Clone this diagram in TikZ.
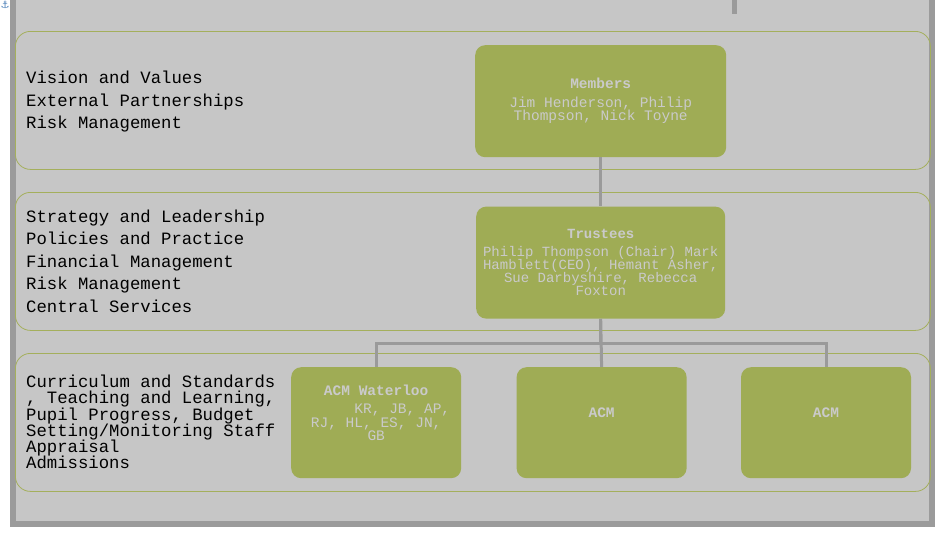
\documentclass[tikz,border=0pt]{standalone}
\usepackage{fontspec}
\setmonofont{Liberation Mono}
\newfontfamily\iconfont{DejaVu Sans}
\usepackage{tikz}
\usetikzlibrary{positioning, calc}

\definecolor{panelgray}{HTML}{C6C6C6}
\definecolor{framegray}{HTML}{9B9B9B}
\definecolor{bandline}{HTML}{A4AF5C}
\definecolor{unitgreen}{HTML}{9FAC55}
\definecolor{unittext}{HTML}{CACACA}
\definecolor{linkgray}{HTML}{9A9A9A}
\definecolor{iconblue}{HTML}{4A7FB8}

\newcommand\tightlines{\lineskiplimit-20pt\relax}

\tikzset{
	band/.style={draw=bandline, line width=0.8pt, rounded corners=15pt, minimum width=915pt, minimum height=138pt, anchor=north west, inner sep=0pt},
	remit/.style={anchor=west, inner sep=0pt, align=left, text=black},
	unit/.style={fill=unitgreen, rounded corners=10pt, text=unittext, align=center, inner sep=0pt, font=\ttfamily\fontsize{14.5}{13.5}\selectfont\tightlines},
	acmbox/.style={unit, minimum width=170pt, minimum height=111pt, text depth=20pt},
	link/.style={draw=linkgray, line width=3pt},
}

\begin{document}
\begin{tikzpicture}[x=1pt, y=-1pt]
	\useasboundingbox (0,0) rectangle (941,533);
	\fill[white] (0,0) rectangle (941,533);
	\fill[framegray] (10,0) rectangle (935,527);
	\fill[panelgray] (16,0) rectangle (929,521);
	\node[text=iconblue, font=\iconfont\fontsize{10}{10}\selectfont, inner sep=0pt] (anchoricon) at (5,5) {⚓};

	% bands
	\node[band] (memberband) at (15,31) {};
	\node[band] (trusteeband) at (15,192) {};
	\node[band] (localband) at (15,353) {};

	% remits
	\node[remit, font=\ttfamily\fontsize{17.3}{22.5}\selectfont] (memberremit) at (26,102)
		{Vision and Values\\External Partnerships\\Risk Management};
	\node[remit, font=\ttfamily\fontsize{17.3}{22.5}\selectfont] (trusteeremit) at (26,261)
		{Strategy and Leadership\\Policies and Practice\\Financial Management\\Risk Management\\Central Services};
	\node[remit, font=\ttfamily\fontsize{17.3}{16.3}\selectfont\tightlines] (localremit) at (26,422)
		{Curriculum and Standards\\, Teaching and Learning,\\Pupil Progress, Budget\\Setting/Monitoring Staff\\Appraisal\\Admissions};

	% boxes
	\node[unit, minimum width=251pt, minimum height=112pt, anchor=north west] (members) at (475,45)
		{\textbf{Members}\\[5pt]Jim Henderson, Philip\\Thompson, Nick Toyne};
	\node[unit, font=\ttfamily\fontsize{14}{13}\selectfont\tightlines, minimum width=249pt, minimum height=112pt, below=49pt of members] (trustees)
		{\textbf{Trustees}\\[5pt]Philip Thompson (Chair) Mark\\Hamblett(CEO), Hemant Asher,\\Sue Darbyshire, Rebecca\\Foxton};
	\node[acmbox, anchor=north west] (waterloo) at (291,367)
		{\textbf{ACM Waterloo}\\[5pt]\hphantom{xxxxxx}KR, JB, AP,\\RJ, HL, ES, JN,\\GB};
	\node[acmbox, right=55pt of waterloo] (acmmid) {\textbf{ACM}};
	\node[acmbox, right=54pt of acmmid] (acmright) {\textbf{ACM}};

	% links
	\coordinate (stubtop) at (734,0);
	\coordinate (stubend) at (734,14);
	\draw[link, line width=5pt] (stubtop) -- (stubend);
	\draw[link] (members.south) -- (trustees.north);
	\draw[link] (trustees.south) -- (acmmid.north);
	\draw[link] (trustees.south) -- ++(0,25) -| (waterloo.north);
	\draw[link] (trustees.south) -- ++(0,25) -| (acmright.north);
\end{tikzpicture}
\end{document}
